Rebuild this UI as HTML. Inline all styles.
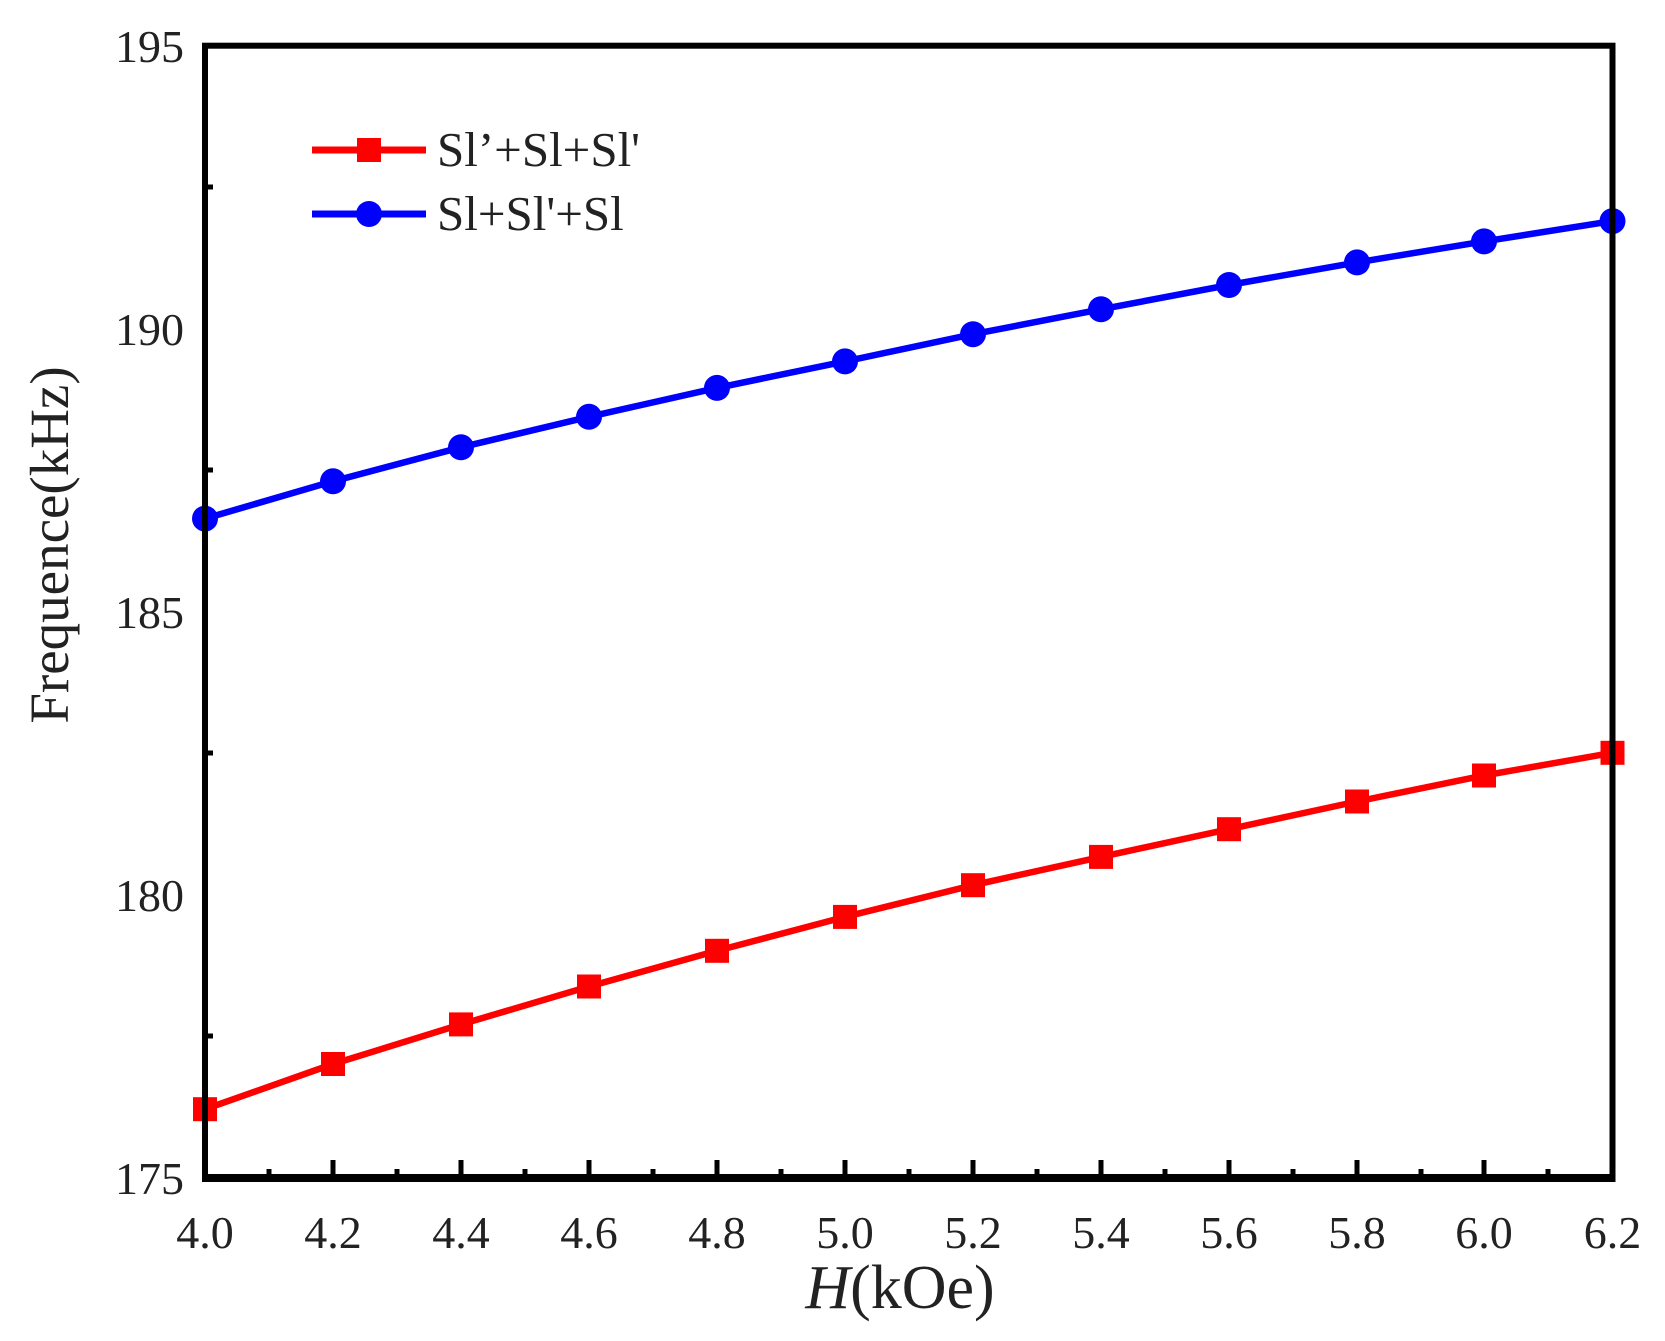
<!DOCTYPE html>
<html><head><meta charset="utf-8"><style>body{margin:0;background:#fff}svg{display:block}</style></head><body>
<svg width="1665" height="1341" viewBox="0 0 1665 1341" xmlns="http://www.w3.org/2000/svg" font-family="'Liberation Serif', serif">
<rect width="1665" height="1341" fill="#fff"/>
<polyline fill="none" stroke="#0000ff" stroke-width="6.5" points="205,518.6 333,481.3 461,447.3 589,416.8 717,387.9 845,361.4 973,334.2 1101,309.3 1229,285 1357,262.4 1484,241.4 1612.5,221.1"/>
<polyline fill="none" stroke="#ff0000" stroke-width="6.5" points="205,1109.2 333,1064 461,1024.4 589,986.5 717,950.8 845,916.9 973,885.2 1101,856.9 1229,829.2 1357,801.5 1484,775.5 1612.5,752.8"/>
<g fill="#ff0000">
<rect x="193" y="1097.2" width="24" height="24"/><rect x="321" y="1052" width="24" height="24"/><rect x="449" y="1012.4" width="24" height="24"/><rect x="577" y="974.5" width="24" height="24"/><rect x="705" y="938.8" width="24" height="24"/><rect x="833" y="904.9" width="24" height="24"/><rect x="961" y="873.2" width="24" height="24"/><rect x="1089" y="844.9" width="24" height="24"/><rect x="1217" y="817.2" width="24" height="24"/><rect x="1345" y="789.5" width="24" height="24"/><rect x="1472" y="763.5" width="24" height="24"/><rect x="1600.5" y="740.8" width="24" height="24"/>
</g>
<g fill="#0000ff">
<circle cx="205" cy="518.6" r="13"/><circle cx="333" cy="481.3" r="13"/><circle cx="461" cy="447.3" r="13"/><circle cx="589" cy="416.8" r="13"/><circle cx="717" cy="387.9" r="13"/><circle cx="845" cy="361.4" r="13"/><circle cx="973" cy="334.2" r="13"/><circle cx="1101" cy="309.3" r="13"/><circle cx="1229" cy="285" r="13"/><circle cx="1357" cy="262.4" r="13"/><circle cx="1484" cy="241.4" r="13"/><circle cx="1612.5" cy="221.1" r="13"/>
</g>
<rect x="205" y="45.7" width="1407.5" height="1131.3" fill="none" stroke="#000" stroke-width="6"/>
<line x1="202" y1="1178" x2="1615.5" y2="1178" stroke="#000" stroke-width="8"/>
<g stroke="#000" stroke-width="5">
<path d="M205,1177v-17M333,1177v-17M461,1177v-17M589,1177v-17M717,1177v-17M845,1177v-17M973,1177v-17M1101,1177v-17M1229,1177v-17M1357,1177v-17M1484,1177v-17M1612.5,1177v-17"/>
<path d="M269,1177v-8M397,1177v-8M525,1177v-8M653,1177v-8M781,1177v-8M909,1177v-8M1037,1177v-8M1165,1177v-8M1293,1177v-8M1421,1177v-8M1548,1177v-8"/>
<path d="M205,187h8M205,470h8M205,753h8M205,1036h8"/>
</g>
<g font-size="46" fill="#222" text-anchor="middle">
<text x="205" y="1248">4.0</text><text x="333" y="1248">4.2</text><text x="461" y="1248">4.4</text><text x="589" y="1248">4.6</text><text x="717" y="1248">4.8</text><text x="845" y="1248">5.0</text><text x="973" y="1248">5.2</text><text x="1101" y="1248">5.4</text><text x="1229" y="1248">5.6</text><text x="1357" y="1248">5.8</text><text x="1484" y="1248">6.0</text><text x="1612.5" y="1248">6.2</text>
</g>
<g font-size="46" fill="#222" text-anchor="end">
<text x="184" y="62">195</text><text x="184" y="345">190</text><text x="184" y="628">185</text><text x="184" y="911">180</text><text x="184" y="1194">175</text>
</g>
<text transform="translate(68,545) rotate(-90)" font-size="55" text-anchor="middle" fill="#222">Frequence(kHz)</text>
<text x="900" y="1308" font-size="62" text-anchor="middle" fill="#222"><tspan font-style="italic">H</tspan>(kOe)</text>
<line x1="312" y1="150" x2="426" y2="150" stroke="#ff0000" stroke-width="7"/>
<rect x="357" y="138" width="24" height="24" fill="#ff0000"/>
<text x="437" y="166" font-size="49" fill="#222">Sl’+Sl+Sl'</text>
<line x1="312" y1="214" x2="426" y2="214" stroke="#0000ff" stroke-width="7"/>
<circle cx="369" cy="214" r="13" fill="#0000ff"/>
<text x="437" y="230" font-size="49" fill="#222">Sl+Sl'+Sl</text>
</svg>
</body></html>
